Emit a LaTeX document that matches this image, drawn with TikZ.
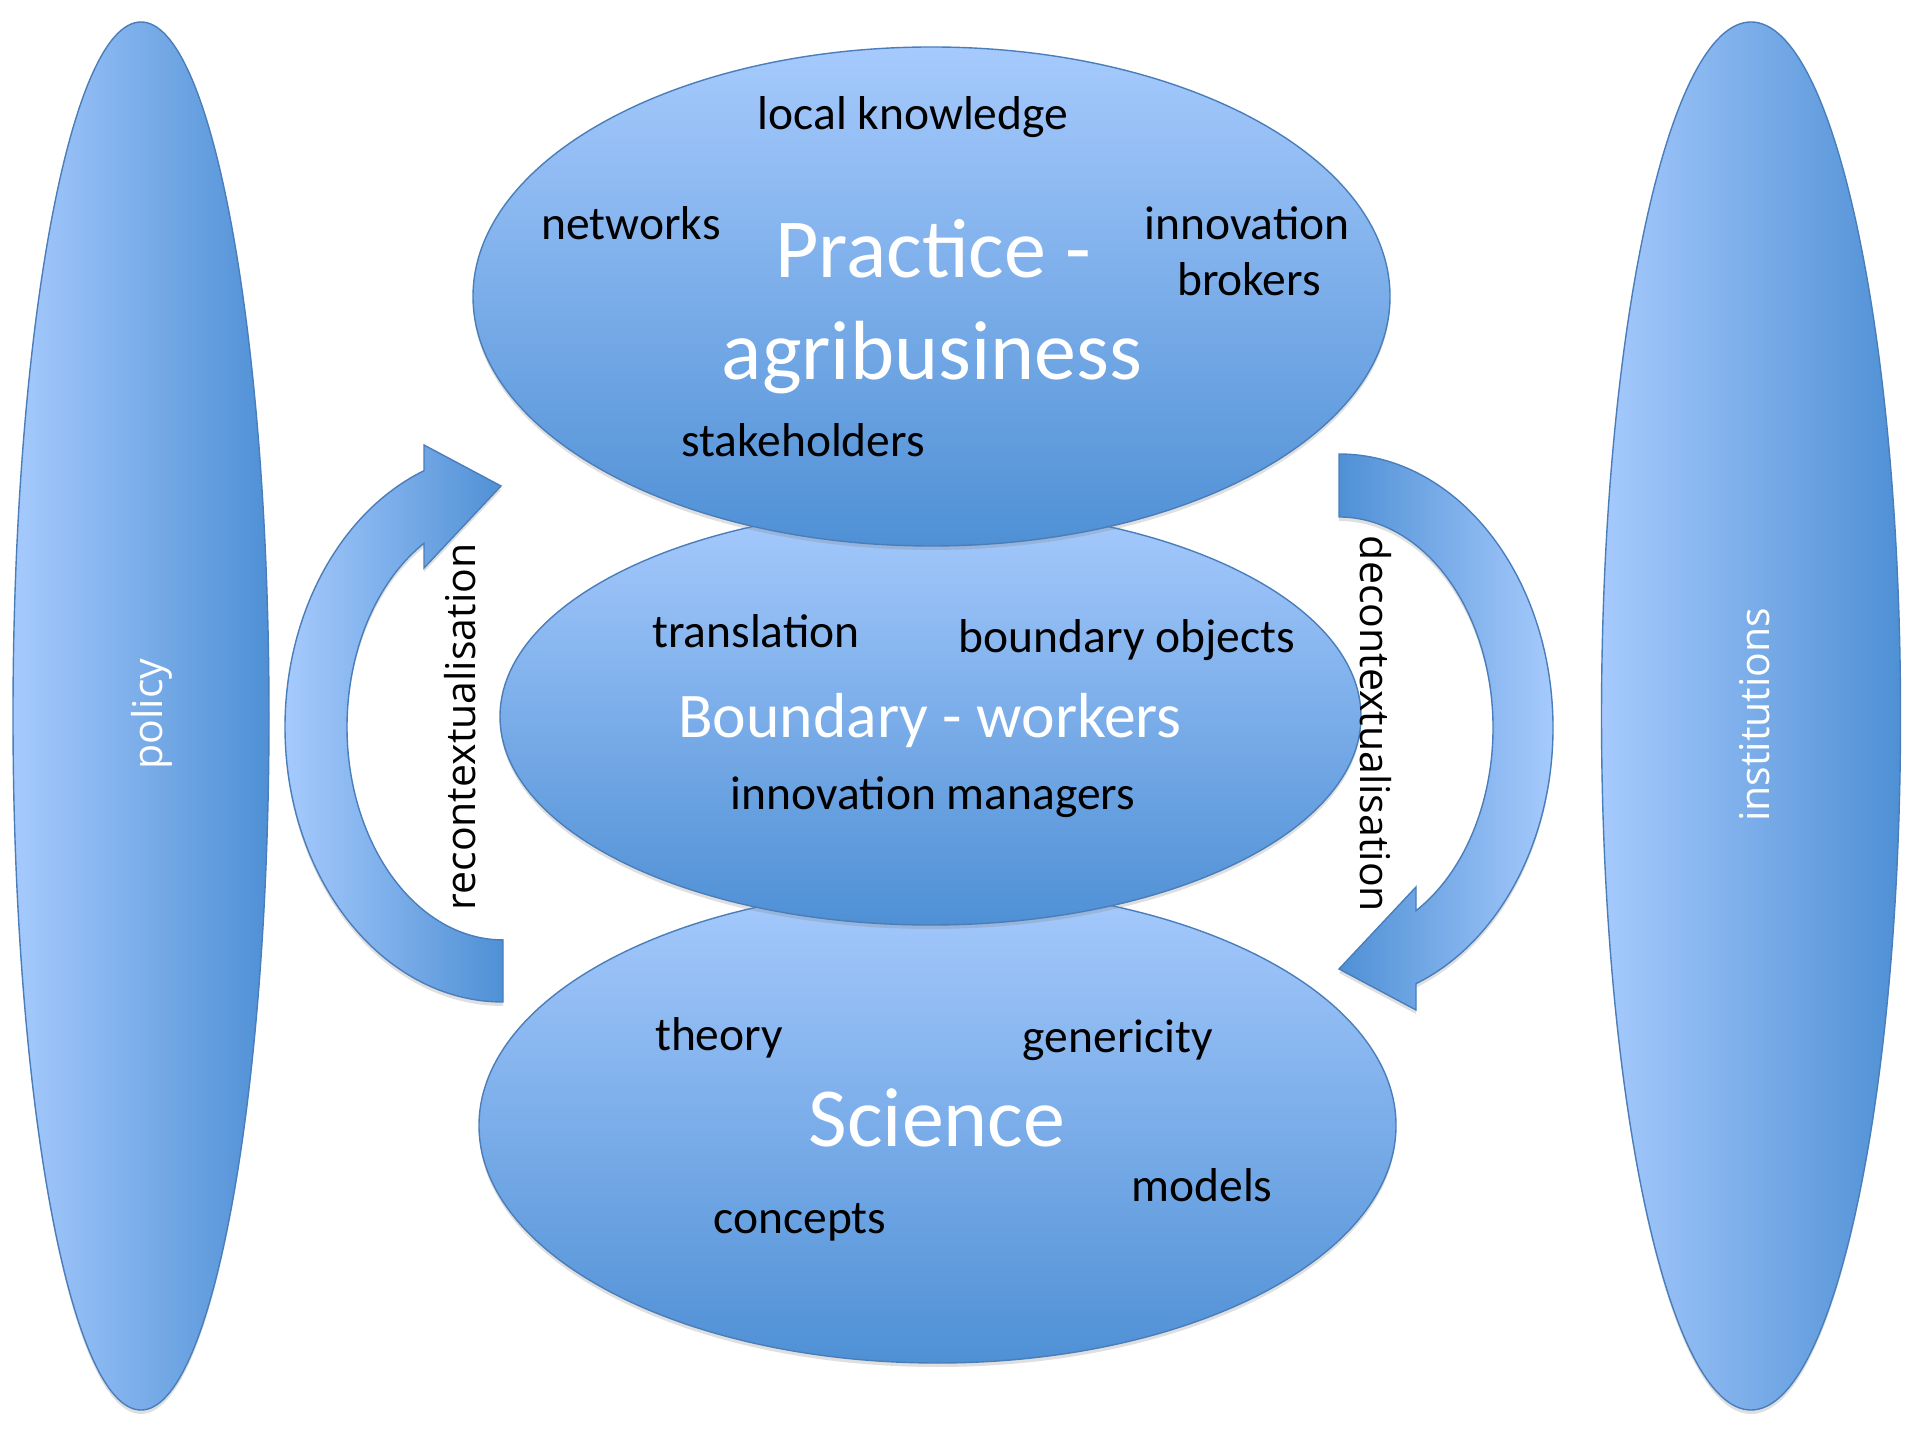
\documentclass[tikz,border=0pt]{standalone}
\usepackage{fontspec}
\setmainfont{Carlito}
\newfontfamily\labfont{Open Sans}
\usetikzlibrary{shapes.geometric,shadows}
\definecolor{gLight}{RGB}{166,202,253}
\definecolor{gDark}{RGB}{79,144,213}
\definecolor{edgeblue}{RGB}{74,126,187}
\tikzset{
  softshadow/.style={drop shadow={shadow xshift=0pt, shadow yshift=-2pt, opacity=0.25}},
  vbubble/.style={ellipse, draw=edgeblue, line width=0.7pt, top color=gLight, bottom color=gDark, inner sep=0pt, outer sep=0pt, softshadow},
  hbubble/.style={ellipse, draw=edgeblue, line width=0.7pt, left color=gLight, right color=gDark, inner sep=0pt, outer sep=0pt, softshadow},
  wordtxt/.style={anchor=base, font=\fontsize{23.75pt}{28.5pt}\selectfont, text=black, inner sep=0pt},
  bigtxt/.style={anchor=base, font=\fontsize{42pt}{50pt}\selectfont, text=white, inner sep=0pt},
  midtxt/.style={anchor=base, font=\fontsize{31.8pt}{38pt}\selectfont, text=white, inner sep=0pt},
  rottxt/.style={font=\labfont\fontsize{20.5pt}{24pt}\selectfont, inner sep=0pt},
  arrowshape/.style={draw=edgeblue, line width=0.7pt, softshadow},
}
\begin{document}
\begin{tikzpicture}[x=0.5pt, y=0.5pt]
  \path[use as bounding box, fill=white] (0,0) rectangle (1920,1440);

  % side ellipses
  \node[hbubble, minimum width=128pt, minimum height=694pt] (policy) at (141,724) {};
  \node[hbubble, minimum width=149.5pt, minimum height=694pt] (institutions) at (1751,724) {};

  % curved arrows
  \path[arrowshape, left color=gLight, right color=gDark]
    (503,438) arc[start angle=270, end angle=111.25, x radius=218, y radius=275]
    -- (424,995) -- (501,954) -- (424,872) -- (424,896.7)
    arc[start angle=120.43, end angle=270, x radius=156, y radius=213] -- cycle;
  \path[arrowshape, left color=gDark, right color=gLight]
    (1339,986) arc[start angle=90, end angle=-68.91, x radius=214, y radius=274]
    -- (1416,430) -- (1339,471) -- (1416,553) -- (1416,529.3)
    arc[start angle=-60, end angle=90, x radius=154, y radius=211] -- cycle;

  % central ellipses (science at back, practice in front)
  \node[vbubble, minimum width=458.5pt, minimum height=237.5pt] (science) at (937.5,314.5) {};
  \node[vbubble, minimum width=430.5pt, minimum height=208.5pt] (boundary) at (930.5,723.5) {};
  \node[vbubble, minimum width=458.5pt, minimum height=249.5pt] (practice) at (931.5,1143.5) {};

  % practice texts
  \node[wordtxt] (lk) at (913,1310) {local knowledge};
  \node[wordtxt] (nw) at (631,1200) {networks};
  \node[wordtxt] (inno) at (1247,1200) {innovation};
  \node[wordtxt] (brok) at (1249,1144) {brokers};
  \node[bigtxt] (prac) at (933,1162) {Practice -};
  \node[bigtxt] (agri) at (932,1060) {agribusiness};
  \node[wordtxt] (stake) at (803,983) {stakeholders};

  % boundary texts
  \node[wordtxt] (trans) at (756,792) {translation};
  \node[wordtxt] (bobj) at (1127,787) {boundary objects};
  \node[midtxt] (bw) at (930,702) {Boundary - workers};
  \node[wordtxt] (im) at (933,630) {innovation managers};

  % science texts
  \node[wordtxt] (theory) at (719,389) {theory};
  \node[wordtxt] (gen) at (1118,387) {genericity};
  \node[bigtxt] (sci) at (937,293) {Science};
  \node[wordtxt] (models) at (1202,239) {models};
  \node[wordtxt] (conc) at (800,207) {concepts};

  % rotated labels
  \node[rottxt, rotate=90, anchor=base, text=black] (recon) at (475,713) {recontextualisation};
  \node[rottxt, rotate=-90, anchor=base, text=black] (decon) at (1360,716) {decontextualisation};
  \node[rottxt, rotate=90, anchor=center, text=white] (poltxt) at (152,726) {policy};
  \node[rottxt, rotate=90, anchor=base, text=white] (insttxt) at (1769,725) {institutions};
\end{tikzpicture}
\end{document}
